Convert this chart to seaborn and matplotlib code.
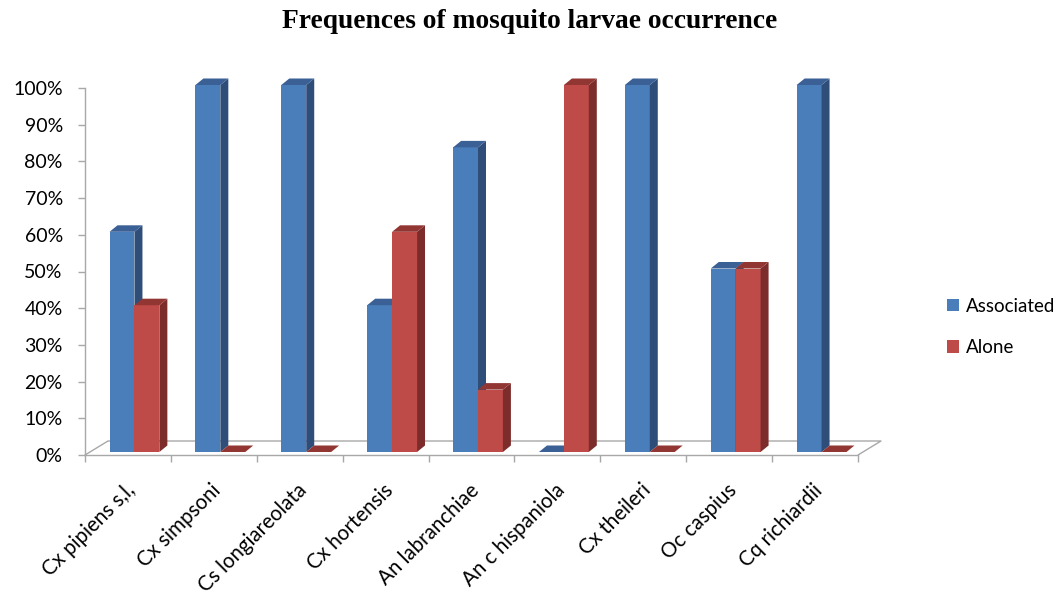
import numpy as np
import pandas as pd
import matplotlib
matplotlib.use("Agg")
import matplotlib.pyplot as plt
import matplotlib.transforms as mtransforms
from matplotlib.patches import Polygon, Patch
import seaborn as sns

# data
species = ["Cx pipiens s,l,", "Cx simpsoni", "Cs longiareolata", "Cx hortensis",
           "An labranchiae", "An c hispaniola", "Cx theileri", "Oc caspius", "Cq richiardii"]
associated = [60, 100, 100, 40, 83, 0, 100, 50, 100]
alone = [40, 0, 0, 60, 17, 100, 0, 50, 0]
series = ["Associated", "Alone"]
y_ticks = list(range(0, 101, 10))

front_colors = ["#4a7ebb", "#be4b48"]
side_colors = ["#2f4d79", "#7c2d2b"]
top_colors = ["#3a6096", "#923633"]
grid_gray = "#a8a8a8"

df = pd.DataFrame({
    "Species": species * 2,
    "Percent": associated + alone,
    "Type": [series[0]] * len(species) + [series[1]] * len(species),
})

sns.set_theme(style="white", rc={"text.color": "black", "xtick.color": "black",
                                 "ytick.color": "black"})
plt.rcParams["font.family"] = ["Lato", "DejaVu Sans"]

fig = plt.figure(figsize=(10.59, 5.96), dpi=100)
W, H = 1059, 596
ax = fig.add_axes([85 / W, 1 - 455 / H, (858 - 85) / W, (455 - 88) / H])

sns.barplot(data=df, x="Species", y="Percent", hue="Type", hue_order=series,
            palette=front_colors, width=0.58, saturation=1, legend=False,
            edgecolor="none", ax=ax)
ax.set_xlim(-0.5, len(species) - 0.5)
ax.set_ylim(0, 100)

# pseudo-3D: bars sit a little behind the floor's front edge
off_x, off_y = 6.5, 3.0      # px shift of bar front faces
dx, dy = 8.0, 6.5            # px depth of each bar
shift = mtransforms.ScaledTranslation(off_x / 100, off_y / 100, fig.dpi_scale_trans)
to_disp = ax.transData.transform
from_disp = ax.transData.inverted().transform

for k, container in enumerate(ax.containers):
    for bar in container:
        bar.set_transform(ax.transData + shift)
        bar.set_zorder(2 + k)
        bar.set_clip_on(False)
        x0, y0 = bar.get_x(), bar.get_y()
        x1, y1 = x0 + bar.get_width(), y0 + bar.get_height()
        px0, py0 = to_disp((x0, y0)) + [off_x, off_y]
        px1, py1 = to_disp((x1, y1)) + [off_x, off_y]
        side = [(px1, py0), (px1 + dx, py0 + dy), (px1 + dx, py1 + dy), (px1, py1)]
        top = [(px0, py1), (px0 + dx, py1 + dy), (px1 + dx, py1 + dy), (px1, py1)]
        ax.add_patch(Polygon(from_disp(side), closed=True, fc=side_colors[k], ec="none",
                             clip_on=False, zorder=2.1 + k))
        ax.add_patch(Polygon(from_disp(top), closed=True, fc=top_colors[k], ec="none",
                             clip_on=False, zorder=2.2 + k))

# floor outline
fx, fy = 23, 14
left = to_disp((-0.5, 0))
right = to_disp((len(species) - 0.5, 0))
floor = [left, left + [fx, fy], right + [fx, fy], right]
floor = from_disp(np.array(floor))
ax.plot(floor[:, 0], floor[:, 1], color=grid_gray, lw=1, clip_on=False, zorder=1)

for s in ["top", "right"]:
    ax.spines[s].set_visible(False)
for s in ["left", "bottom"]:
    ax.spines[s].set_color(grid_gray)
    ax.spines[s].set_linewidth(1)

ax.set_yticks(y_ticks)
ax.set_yticklabels([f"{v}%" for v in y_ticks])
ax.tick_params(axis="y", length=5, width=1, color=grid_gray, direction="out",
               pad=11, labelsize=14, left=True, labelcolor="black")

ax.set_xticks(range(len(species)))
ax.set_xticklabels(species, rotation=45, ha="right", rotation_mode="anchor")
ax.set_xticks(np.arange(-0.5, len(species), 1), minor=True)
ax.tick_params(axis="x", which="major", length=0, pad=18, labelsize=14.8,
               labelcolor="black")
ax.tick_params(axis="x", which="minor", length=5, width=1, color=grid_gray,
               direction="out", bottom=True)
nudge = mtransforms.ScaledTranslation(-3 / 100, 0, fig.dpi_scale_trans)
for lab in ax.get_xticklabels():
    lab.set_transform(lab.get_transform() + nudge)
ax.set_xlabel("")
ax.set_ylabel("")

handles = [Patch(fc=c, ec="none") for c in front_colors]
fig.legend(handles, series, loc="center left", bbox_to_anchor=(930 / W, 1 - 327 / H),
           frameon=False, fontsize=13.5, handlelength=0.65, handleheight=0.65,
           handletextpad=0.35, labelspacing=1.3)

fig.text(0.5, 1 - 22 / H, "Frequences of mosquito larvae occurrence", ha="center",
         va="center", fontsize=19.8, fontweight="bold", color="black",
         family=["Liberation Serif", "DejaVu Serif"])

fig.savefig("out.png", dpi=100)
